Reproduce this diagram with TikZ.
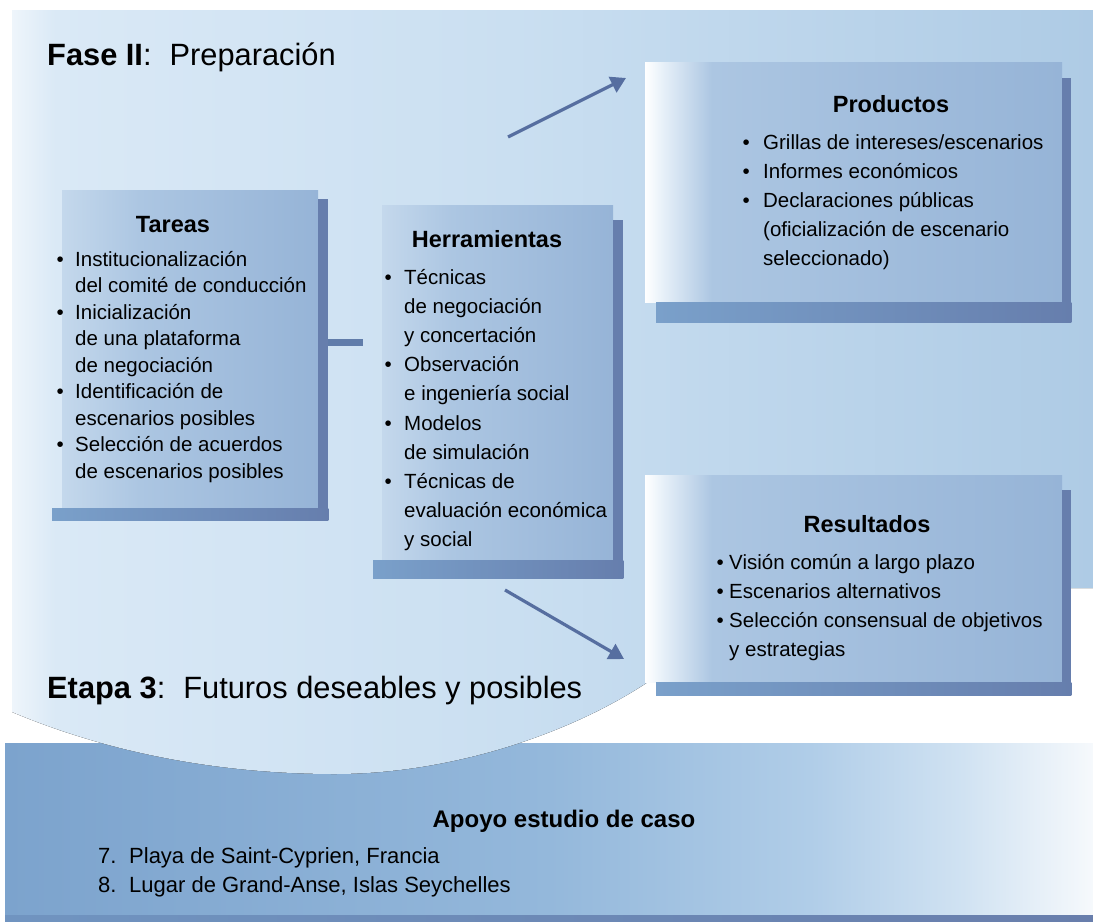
\documentclass[tikz,border=0pt]{standalone}
\usepackage{fontspec}
\setmainfont{Liberation Sans}
\usetikzlibrary{arrows.meta}

% palette
\definecolor{panelL}{RGB}{238,245,251}
\definecolor{panelA}{RGB}{218,233,246}
\definecolor{panelM}{RGB}{202,223,241}
\definecolor{panelR}{RGB}{174,203,229}
\definecolor{bandL}{RGB}{124,163,205}
\definecolor{bandA}{RGB}{148,184,219}
\definecolor{bandM}{RGB}{176,205,232}
\definecolor{bandN}{RGB}{208,226,242}
\definecolor{bandW}{RGB}{246,249,252}
\definecolor{bandEdgeL}{RGB}{112,148,192}
\definecolor{bandEdgeR}{RGB}{104,126,172}
\definecolor{boxW}{RGB}{255,255,255}
\definecolor{boxP}{RGB}{232,241,249}
\definecolor{boxL}{RGB}{196,216,236}
\definecolor{boxA}{RGB}{172,198,226}
\definecolor{boxR}{RGB}{150,180,215}
\definecolor{shade}{RGB}{102,126,173}
\definecolor{shadeL}{RGB}{122,160,202}
\definecolor{arrowc}{RGB}{86,110,160}
\definecolor{barc}{RGB}{96,124,170}

% horizontal shadings (the path spans 25bp..75bp)
\pgfdeclarehorizontalshading{panelsh}{100bp}{color(0bp)=(panelL); color(25bp)=(panelL); color(27bp)=(panelA); color(48bp)=(panelM); color(75bp)=(panelR); color(100bp)=(panelR)}
\pgfdeclarehorizontalshading{bandsh}{100bp}{color(0bp)=(bandL); color(25bp)=(bandL); color(50bp)=(bandA); color(62bp)=(bandM); color(69bp)=(bandN); color(75bp)=(bandW); color(100bp)=(bandW)}
\pgfdeclarehorizontalshading{leftbox}{100bp}{color(0bp)=(boxL); color(25bp)=(boxL); color(40bp)=(boxA); color(75bp)=(boxR); color(100bp)=(boxR)}
\pgfdeclarehorizontalshading{rightbox}{100bp}{color(0bp)=(boxW); color(25bp)=(boxW); color(27bp)=(boxP); color(33bp)=(boxA); color(75bp)=(boxR); color(100bp)=(boxR)}

\newlength\bulletgap
\newcommand\listbullet{\llap{\textbullet\hspace{\bulletgap}}}

\tikzset{
  boxbody/.style={draw=none, inner sep=0, anchor=north west},
  sidestrip/.style={fill=shade},
  basestrip/.style={left color=shadeL, right color=shade},
  headline/.style={font=\fontsize{30.8}{36}\selectfont, inner sep=0, anchor=base west},
  boxtitle/.style={font=\bfseries\fontsize{23.5}{28}\selectfont, inner sep=0, anchor=base},
  listtext/.style={font=\fontsize{20.5}{#1}\selectfont, inner sep=0, anchor=base west},
  flowarrow/.style={draw=arrowc, line width=3.2pt, -{Triangle[length=15pt,width=17pt]}},
  barlink/.style={draw=barc, line width=7pt},
}

\begin{document}
\begin{tikzpicture}[x=1pt, y=-1pt]
\useasboundingbox (0,0) rectangle (1093,924);
\fill[white] (0,0) rectangle (1093,924);

% lower band
\fill[shading=bandsh] (5,743) rectangle (1093,921);
\fill[left color=bandEdgeL, right color=bandEdgeR] (5,915) rectangle (1093,921);

% upper panel with curved lower edge
\fill[shading=panelsh] (12,10) -- (1093,10) -- (1093,588) -- (860,588) -- (648,682)
  .. controls (560,740) and (440,774) .. (335,774)
  .. controls (200,774) and (90,745) .. (12,712) -- cycle;

% headings
\node[headline] (fase) at (47,65) {\textbf{Fase II}:\hspace{18pt}Preparación};
\node[headline] (etapa) at (47,698) {\textbf{Etapa 3}:\hspace{18pt}Futuros deseables y posibles};

% boxes
\node[boxbody, shading=leftbox, minimum width=256pt, minimum height=318pt] (tareas) at (62,190) {};
\node[boxbody, shading=leftbox, minimum width=231pt, minimum height=355pt] (herr) at (382,205) {};
\node[boxbody, shading=rightbox, minimum width=417pt, minimum height=240pt] (prod) at (645,62) {};
\node[boxbody, shading=rightbox, minimum width=417pt, minimum height=207pt] (res) at (645,475) {};

% link between Tareas and Herramientas
\coordinate (barend) at (363,342);
\draw[barlink] (tareas.east |- barend) -- (barend);

% box shadows
\fill[sidestrip] ([yshift=-9pt]tareas.north east) rectangle ([xshift=10pt]tareas.south east);
\fill[basestrip] ([xshift=-10pt]tareas.south west) rectangle ([xshift=10pt,yshift=-12pt]tareas.south east);
\fill[sidestrip] ([yshift=-15pt]herr.north east) rectangle ([xshift=10pt]herr.south east);
\fill[basestrip] ([xshift=-9pt]herr.south west) rectangle ([xshift=10pt,yshift=-18pt]herr.south east);
\fill[sidestrip] ([yshift=-16pt]prod.north east) rectangle ([xshift=9pt]prod.south east);
\fill[basestrip] ([xshift=11pt]prod.south west) rectangle ([xshift=9pt,yshift=-20pt]prod.south east);
\fill[sidestrip] ([yshift=-15pt]res.north east) rectangle ([xshift=9pt]res.south east);
\fill[basestrip] ([xshift=11pt]res.south west) rectangle ([xshift=9pt,yshift=-13pt]res.south east);

% box titles
\node[boxtitle] (tareasT) at (173,232) {Tareas};
\node[boxtitle] (herrT) at (487,247) {Herramientas};
\node[boxtitle] (prodT) at (891,112) {Productos};
\node[boxtitle] (resT) at (867,532) {Resultados};

% box lists
\node[listtext=26.5] (tareasL) at (75,266) {\setlength\bulletgap{11.4pt}%
\begin{tabular}[t]{@{}l@{}}
\listbullet Institucionalización\\
del comité de conducción\\
\listbullet Inicialización\\
de una plataforma\\
de negociación\\
\listbullet Identificación de\\
escenarios posibles\\
\listbullet Selección de acuerdos\\
de escenarios posibles
\end{tabular}};

\node[listtext=29.2] (herrL) at (404,284) {\setlength\bulletgap{12.4pt}%
\begin{tabular}[t]{@{}l@{}}
\listbullet Técnicas\\
de negociación\\
y concertación\\
\listbullet Observación\\
e ingeniería social\\
\listbullet Modelos\\
de simulación\\
\listbullet Técnicas de\\
evaluación económica\\
y social
\end{tabular}};

\node[listtext=29] (prodL) at (763,149) {\setlength\bulletgap{13.4pt}%
\begin{tabular}[t]{@{}l@{}}
\listbullet Grillas de intereses/escenarios\\
\listbullet Informes económicos\\
\listbullet Declaraciones públicas\\
(oficialización de escenario\\
seleccionado)
\end{tabular}};

\node[listtext=29.3] (resL) at (729,569) {\setlength\bulletgap{5.5pt}%
\begin{tabular}[t]{@{}l@{}}
\listbullet Visión común a largo plazo\\
\listbullet Escenarios alternativos\\
\listbullet Selección consensual de objetivos\\
y estrategias
\end{tabular}};

% flow arrows
\coordinate (upS) at (508,137);
\coordinate (upE) at (626,78);
\coordinate (dnS) at (505,590);
\coordinate (dnE) at (624,659);
\draw[flowarrow] (upS) -- (upE);
\draw[flowarrow] (dnS) -- (dnE);

% case studies
\node[font=\bfseries\fontsize{24}{28}\selectfont, inner sep=0, anchor=base] (apoyo) at (564,827) {Apoyo estudio de caso};
\node[font=\fontsize{22}{26}\selectfont, inner sep=0, anchor=base west] (caso7) at (98,863) {\makebox[31pt][l]{7.}Playa de Saint-Cyprien, Francia};
\node[font=\fontsize{22}{26}\selectfont, inner sep=0, anchor=base west] (caso8) at (98,892) {\makebox[31pt][l]{8.}Lugar de Grand-Anse, Islas Seychelles};
\end{tikzpicture}
\end{document}
